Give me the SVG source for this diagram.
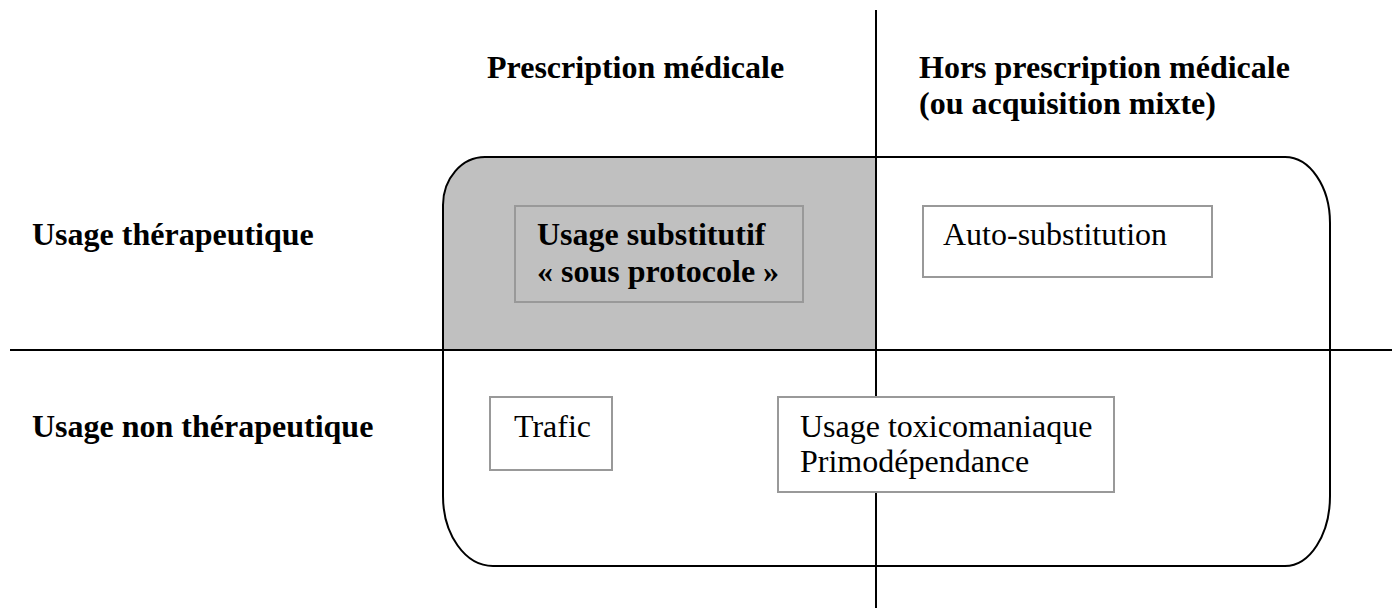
<svg xmlns="http://www.w3.org/2000/svg" width="1392" height="608" viewBox="0 0 1392 608">
<style>
text{font-family:"Liberation Serif","Times New Roman",serif;font-size:32px;fill:#000}
.b{font-weight:bold}
.box{fill:none;stroke:#999;stroke-width:2}
.ln{stroke:#000;stroke-width:2;fill:none}
</style>
<rect width="1392" height="608" fill="#fff"/>
<g id="shaded-quadrant">
<path d="M443,350 V205 A42,48 0 0 1 485,157 H876 V350 Z" fill="#c0c0c0"/>
</g>
<g id="connectors">
<line class="ln" x1="876" y1="10" x2="876" y2="608"/>
<line class="ln" x1="10" y1="350" x2="1392" y2="350"/>
<path class="ln" d="M485,157 H1285 A45,66 0 0 1 1330,223 V496 A45,70 0 0 1 1285,566 H493 A50,70 0 0 1 443,496 V205 A42,48 0 0 1 485,157 Z"/>
</g>
<g id="col-prescription"><text class="b" x="487" y="78">Prescription médicale</text></g>
<g id="col-hors"><text class="b" x="919" y="78">Hors prescription médicale</text><text class="b" x="919" y="114">(ou acquisition mixte)</text></g>
<g id="row-therapeutique"><text class="b" x="32" y="245">Usage thérapeutique</text></g>
<g id="row-non-therapeutique"><text class="b" x="32" y="437">Usage non thérapeutique</text></g>
<g id="node-substitutif">
<rect class="box" x="515" y="206" width="288" height="96"/>
<text class="b" x="537" y="245">Usage substitutif</text>
<text class="b" x="537" y="282">« sous protocole »</text>
</g>
<g id="node-auto">
<rect class="box" x="923" y="206" width="289" height="71" fill="#fff"/>
<text x="943" y="245">Auto-substitution</text>
</g>
<g id="node-trafic">
<rect class="box" x="490" y="397" width="122" height="73" fill="#fff"/>
<text x="514" y="437">Trafic</text>
</g>
<g id="node-toxico">
<rect x="778" y="397" width="336" height="95" fill="#fff" stroke="#999" stroke-width="2"/>
<text x="800" y="437">Usage toxicomaniaque</text>
<text x="800" y="472">Primodépendance</text>
</g>
</svg>
